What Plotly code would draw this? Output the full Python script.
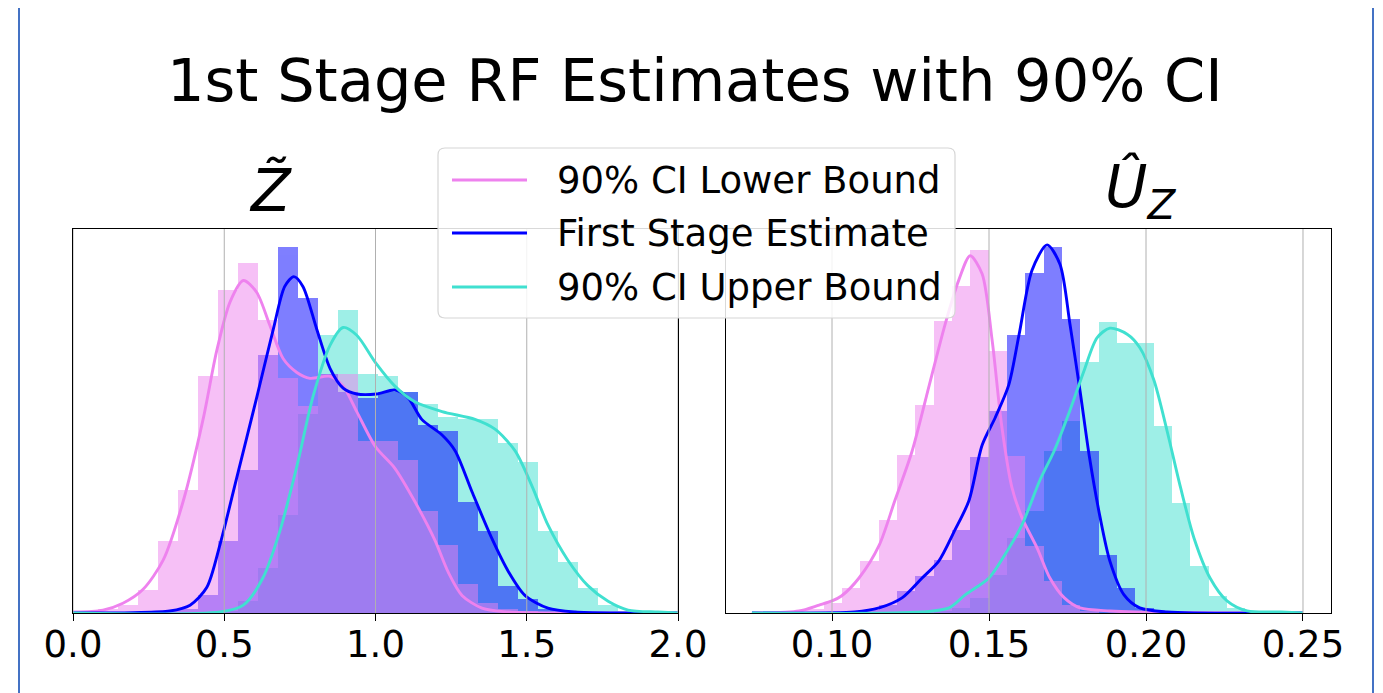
import numpy as np
import plotly.graph_objects as go

# ---------------- data ----------------
# histogram bins (30 equal bins over the data range of each panel)
z_bin_edges = np.linspace(0.0176, 2.0006, 31)
u_bin_edges = np.linspace(0.0740, 0.2492, 31)

# Z-tilde panel: density histograms
z_hist_lower = [0.01, 0.02, 0.04, 0.12, 0.37, 0.63, 1.21, 1.65, 1.79, 1.50, 1.20, 1.06, 1.22, 1.22, 0.88,
                0.88, 0.78, 0.52, 0.35, 0.15, 0.05, 0.02, 0.01, 0, 0, 0, 0, 0, 0, 0]
z_hist_est = [0, 0, 0, 0, 0.01, 0.02, 0.09, 0.37, 0.73, 1.32, 1.87, 1.61, 1.22, 1.13, 1.10,
              1.13, 1.13, 0.96, 0.93, 0.57, 0.42, 0.14, 0.07, 0.02, 0.01, 0, 0, 0, 0, 0]
z_hist_upper = [0, 0, 0, 0, 0, 0, 0, 0.01, 0.06, 0.23, 0.50, 1.02, 1.42, 1.55, 1.22,
                1.21, 1.13, 1.07, 1.00, 0.99, 0.99, 0.87, 0.77, 0.42, 0.26, 0.13, 0.04, 0.01, 0.01, 0]

# Z-tilde panel: KDE curves (x, density)
z_kde_lower_x = [0.0, 0.099, 0.165, 0.231, 0.298, 0.364, 0.43, 0.475, 0.519, 0.563, 0.607, 0.651, 0.695,
                 0.74, 0.783, 0.85, 0.893, 0.938, 1.0, 1.064, 1.13, 1.197, 1.24, 1.286, 1.352, 1.44, 1.6, 2.0]
z_kde_lower_y = [0.005, 0.015, 0.05, 0.12, 0.27, 0.57, 0.99, 1.34, 1.59, 1.70, 1.64, 1.47, 1.30,
                 1.23, 1.20, 1.21, 1.16, 1.03, 0.85, 0.74, 0.57, 0.37, 0.21, 0.09, 0.025, 0.005, 0.0, 0.0]
z_kde_est_x = [0.0, 0.2, 0.32, 0.387, 0.442, 0.486, 0.541, 0.607, 0.662, 0.70, 0.73, 0.76, 0.806, 0.85,
               0.893, 0.938, 1.004, 1.064, 1.108, 1.153, 1.22, 1.263, 1.319, 1.385, 1.44, 1.494, 1.57,
               1.66, 1.8, 2.0]
z_kde_est_y = [0.0, 0.002, 0.01, 0.04, 0.13, 0.35, 0.69, 1.10, 1.45, 1.67, 1.72, 1.67, 1.45, 1.25,
               1.15, 1.12, 1.12, 1.14, 1.10, 0.99, 0.91, 0.83, 0.62, 0.38, 0.21, 0.09, 0.025,
               0.005, 0.0, 0.0]
z_kde_upper_x = [0.0, 0.486, 0.563, 0.628, 0.684, 0.74, 0.794, 0.85, 0.893, 0.938, 1.0, 1.064, 1.13,
                 1.22, 1.329, 1.395, 1.461, 1.517, 1.57, 1.636, 1.702, 1.769, 1.835, 1.934, 2.0]
z_kde_upper_y = [0.0, 0.005, 0.04, 0.18, 0.42, 0.75, 1.11, 1.37, 1.46, 1.42, 1.28, 1.16, 1.08,
                 1.03, 0.99, 0.94, 0.83, 0.65, 0.45, 0.27, 0.14, 0.06, 0.015, 0.005, 0.0]

# U-hat_Z panel: density histograms
u_hist_lower = [0, 0.08, 0.17, 0.33, 0.83, 2.08, 4.32, 7.72, 13.1, 17.2, 24.2, 27.1, 30.1, 21.7, 13.0,
                5.56, 2.66, 0.66, 0.17, 0, 0, 0, 0, 0, 0, 0, 0, 0, 0, 0]
u_hist_est = [0, 0, 0, 0, 0, 0.08, 0.25, 0.66, 1.83, 3.07, 4.40, 6.89, 12.9, 16.7, 23.0,
              28.2, 30.3, 24.4, 13.4, 4.81, 2.08, 0.42, 0.17, 0, 0, 0, 0, 0, 0, 0]
u_hist_upper = [0, 0, 0, 0, 0, 0, 0, 0, 0, 0, 0.17, 0.42, 1.25, 3.15, 6.23,
                8.47, 13.4, 15.9, 20.8, 24.1, 22.4, 22.4, 15.5, 9.13, 3.90, 1.41, 0.42, 0.17, 0.08, 0]

# U-hat_Z panel: KDE curves
u_kde_lower_x = [0.0745, 0.0895, 0.0959, 0.1, 0.103, 0.1086, 0.115, 0.120, 0.1255, 0.131, 0.136, 0.1404,
                 0.144, 0.1478, 0.151, 0.154, 0.1573, 0.1605, 0.1653, 0.1694, 0.174, 0.179, 0.1885,
                 0.197, 0.25]
u_kde_lower_y = [0.0, 0.17, 0.66, 1.0, 1.41, 2.9, 5.6, 9.3, 13.4, 18.9, 23.9, 27.6,
                 29.6, 28.1, 22.6, 15.6, 10.4, 7.9, 5.4, 2.9, 1.25, 0.42, 0.17,
                 0.08, 0.0]
u_kde_est_x = [0.0745, 0.1073, 0.115, 0.1223, 0.1287, 0.134, 0.139, 0.1436, 0.1478, 0.152, 0.1563,
               0.1596, 0.1637, 0.1685, 0.1726, 0.1758, 0.179, 0.182, 0.1854, 0.1885, 0.193, 0.198,
               0.2067, 0.25]
u_kde_est_y = [0.0, 0.08, 0.42, 1.25, 2.9, 4.3, 6.8, 9.3, 13.9, 16.2, 18.9,
               23.1, 28.4, 30.5, 28.9, 23.9, 18.4, 12.9, 7.9, 4.3, 1.5, 0.42,
               0.08, 0.0]
u_kde_upper_x = [0.0745, 0.1287, 0.1373, 0.1424, 0.15, 0.155, 0.1605, 0.1662, 0.1707, 0.1758, 0.1803,
                 0.1844, 0.1885, 0.194, 0.198, 0.2025, 0.2067, 0.211, 0.2153, 0.2204, 0.2258, 0.2322,
                 0.243, 0.25]
u_kde_upper_y = [0.0, 0.08, 0.42, 1.5, 2.9, 4.8, 7.3, 11.0, 13.4, 16.8, 20.1,
                 22.8, 23.6, 23.1, 22.0, 19.3, 15.1, 10.4, 6.2, 2.9, 1.0, 0.17,
                 0.08, 0.0]

series_names = ["90% CI Lower Bound", "First Stage Estimate", "90% CI Upper Bound"]
series_colors = ["#EE82EE", "#0000FF", "#40E0D0"]

z_ticks = [0.0, 0.5, 1.0, 1.5, 2.0]
z_tick_labels = ["0.0", "0.5", "1.0", "1.5", "2.0"]
u_ticks = [0.10, 0.15, 0.20, 0.25]
u_tick_labels = ["0.10", "0.15", "0.20", "0.25"]

title_text = "1st Stage RF Estimates with 90% CI"
z_title = "<i>Z\u0303</i>"
u_title = "<i>\u00DB</i><sub><i>Z</i></sub>"

# ---------------- figure ----------------
W, H = 1383, 693
OFF = 8  # page body margin of the html document
FONT = "DejaVu Sans"


def px_x(p):
    return (p - OFF) / W


def px_y(p):
    return 1 - (p - OFF) / H


fig = go.Figure()

panels = [
    ("x", "y", z_bin_edges,
     [z_hist_lower, z_hist_est, z_hist_upper],
     [(z_kde_lower_x, z_kde_lower_y), (z_kde_est_x, z_kde_est_y), (z_kde_upper_x, z_kde_upper_y)]),
    ("x2", "y2", u_bin_edges,
     [u_hist_lower, u_hist_est, u_hist_upper],
     [(u_kde_lower_x, u_kde_lower_y), (u_kde_est_x, u_kde_est_y), (u_kde_upper_x, u_kde_upper_y)]),
]

for xa, ya, edges, hists, kdes in panels:
    edges = np.asarray(edges)
    centers = (edges[:-1] + edges[1:]) / 2
    widths = np.diff(edges)
    # histograms: drawn upper, estimate, lower (lower on top)
    for idx in [2, 1, 0]:
        fig.add_trace(go.Bar(
            x=centers, y=hists[idx], width=widths,
            marker=dict(color=series_colors[idx], line=dict(width=0)),
            opacity=0.5, xaxis=xa, yaxis=ya, showlegend=False, hoverinfo="skip",
        ))
    for idx in [0, 1, 2]:
        kx, ky = kdes[idx]
        fig.add_trace(go.Scatter(
            x=kx, y=ky, mode="lines",
            line=dict(color=series_colors[idx], width=2.9, shape="spline", smoothing=0.8),
            xaxis=xa, yaxis=ya, showlegend=False, name=series_names[idx],
        ))

ax_common = dict(
    showline=True, linecolor="black", linewidth=1.3, mirror=True,
    ticks="outside", ticklen=7, tickwidth=1.3, tickcolor="black",
    showgrid=False, zeroline=False, layer="above traces", automargin=False,
    ticklabelstandoff=-9,
    tickfont=dict(family=FONT, size=37, color="black"),
)
y_common = dict(showline=True, linecolor="black", linewidth=1.3, mirror=True,
                showticklabels=False, ticks="", showgrid=False, zeroline=False,
                layer="above traces", automargin=False)

y_top, y_bot = 229, 613
fig.update_layout(
    width=W, height=H, margin=dict(l=0, r=0, t=0, b=0, autoexpand=False),
    paper_bgcolor="white", plot_bgcolor="white",
    barmode="overlay", bargap=0,
    xaxis=dict(domain=[px_x(73), px_x(678)], range=[0.0, 2.0],
               tickvals=z_ticks, ticktext=z_tick_labels, anchor="y", **ax_common),
    yaxis=dict(domain=[px_y(y_bot), px_y(y_top)], range=[0, max(z_hist_est) * 1.05],
               anchor="x", **y_common),
    xaxis2=dict(domain=[px_x(726), px_x(1331)], range=[0.06624, 0.25892],
                tickvals=u_ticks, ticktext=u_tick_labels, anchor="y2", **ax_common),
    yaxis2=dict(domain=[px_y(y_bot), px_y(y_top)], range=[0, max(u_hist_est) * 1.05],
                anchor="x2", **y_common),
    showlegend=False,
)

shapes = []
# vertical gridlines above the bars
for xr, yr, ticks in [("x", "y domain", z_ticks), ("x2", "y2 domain", u_ticks)]:
    for t in ticks:
        shapes.append(dict(type="line", xref=xr, yref=yr, x0=t, x1=t, y0=0, y1=1,
                           line=dict(color="#b0b0b0", width=1), layer="above"))

# page border lines
for bx in [19, 1373]:
    shapes.append(dict(type="line", xref="paper", yref="paper", x0=px_x(bx), x1=px_x(bx),
                       y0=-0.05, y1=1.05, line=dict(color="#4472C4", width=2), layer="above"))

# legend box (rounded)
lx0, lx1, ly0, ly1, r = 438, 955, 148, 318, 7


def P(x, y):
    return f"{px_x(x):.5f},{px_y(y):.5f}"


path = (f"M {P(lx0 + r, ly0)} L {P(lx1 - r, ly0)} Q {P(lx1, ly0)} {P(lx1, ly0 + r)} "
        f"L {P(lx1, ly1 - r)} Q {P(lx1, ly1)} {P(lx1 - r, ly1)} "
        f"L {P(lx0 + r, ly1)} Q {P(lx0, ly1)} {P(lx0, ly1 - r)} "
        f"L {P(lx0, ly0 + r)} Q {P(lx0, ly0)} {P(lx0 + r, ly0)} Z")
shapes.append(dict(type="path", xref="paper", yref="paper", path=path,
                   fillcolor="rgba(255,255,255,0.85)", line=dict(color="#d6d6d6", width=1.2),
                   layer="above"))

legend_rows = [180, 233, 287]
annotations = []
for i, yy in enumerate(legend_rows):
    shapes.append(dict(type="line", xref="paper", yref="paper", x0=px_x(452), x1=px_x(527),
                       y0=px_y(yy), y1=px_y(yy),
                       line=dict(color=series_colors[i], width=2.9), layer="above"))
    annotations.append(dict(xref="paper", yref="paper", x=px_x(555), y=px_y(yy),
                            xanchor="left", yanchor="middle", showarrow=False,
                            text=series_names[i],
                            font=dict(family=FONT, size=37, color="black")))

annotations.append(dict(xref="paper", yref="paper", x=px_x(695), y=px_y(80),
                        xanchor="center", yanchor="middle", showarrow=False, text=title_text,
                        font=dict(family=FONT, size=59, color="black")))
annotations.append(dict(xref="paper", yref="paper", x=px_x(270), y=px_y(190),
                        xanchor="center", yanchor="middle", showarrow=False, text=z_title,
                        font=dict(family=FONT, size=58, color="black")))
annotations.append(dict(xref="paper", yref="paper", x=px_x(1140), y=px_y(190),
                        xanchor="center", yanchor="middle", showarrow=False, text=u_title,
                        font=dict(family=FONT, size=58, color="black")))

fig.update_layout(shapes=shapes, annotations=annotations)

fig.write_html("out.html")
